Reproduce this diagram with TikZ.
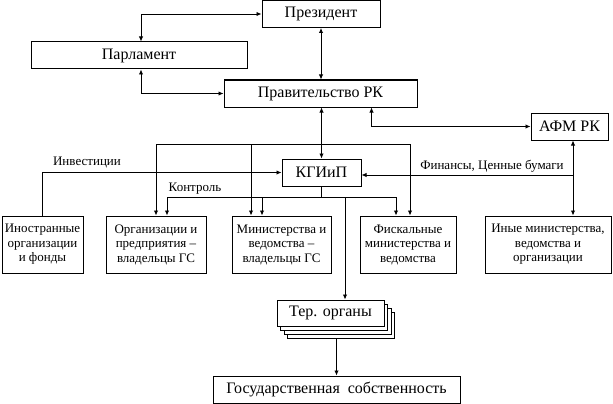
\documentclass[tikz,border=0pt]{standalone}
\usepackage{fontspec}
\setmainfont{Liberation Serif}
\usetikzlibrary{arrows.meta}
\begin{document}
\begin{tikzpicture}[x=1pt, y=-1pt, line width=0.9pt, >={Latex[length=5pt,width=4.5pt]},
    box/.style={draw, line width=1pt, fill=white, inner sep=0pt, minimum height=27pt, font=\fontsize{16}{18}\selectfont},
    unit/.style={draw, line width=1pt, fill=white, inner sep=0pt, minimum height=57pt, align=center, font=\fontsize{13}{14.5}\selectfont},
    lbl/.style={inner sep=0pt, font=\fontsize{13}{15}\selectfont}]
    \useasboundingbox (0,0) rectangle (613,404);

    \node[box, minimum width=118pt] (prez) at (321,14) {Президент};
    \node[box, minimum width=216pt] (parl) at (139,55.5) {Парламент};
    \node[box, minimum width=193pt] (gov) at (320.5,93.5) {Правительство РК};
    \node[box, minimum width=77pt] (afm) at (569.5,126.5) {АФМ РК};
    \node[box, minimum width=79pt] (kgi) at (321.5,172.5) {КГИиП};

    \node[unit, minimum width=81pt] (inos) at (42.5,244.5) {Иностранные\\организации\\и фонды};
    \node[unit, minimum width=100pt] (org) at (156,244.5) {Организации и\\предприятия --\\владельцы ГС};
    \node[unit, minimum width=99pt] (min) at (281.5,244.5) {Министерства и\\ведомства --\\владельцы ГС};
    \node[unit, minimum width=96pt] (fisk) at (408,244.5) {Фискальные\\министерства и\\ведомства};
    \node[unit, minimum width=126pt] (inye) at (548,244.5) {Иные министерства,\\ведомства и\\организации};

    \node[box, minimum width=107pt, minimum height=26pt] (ter3) at (341,325) {};
    \node[box, minimum width=107pt, minimum height=26pt] (ter2) at (337.5,321) {};
    \node[box, minimum width=107pt, minimum height=26pt] (ter1) at (334,317) {};
    \node[box, minimum width=107pt, minimum height=26pt] (ter) at (330.5,313) {Тер. органы};
    \node[box, minimum width=247pt] (gos) at (336.5,389.5) {Государственная\ \ собственность};

    \node[lbl] (inv) at (87,162) {Инвестиции};
    \node[lbl] (ctl) at (195,189) {Контроль};
    \node[lbl] (fin) at (492,166) {Финансы, Ценные бумаги};

    \coordinate (a1) at (156,144);
    \coordinate (a2) at (251,144);
    \coordinate (a3) at (410,144);
    \coordinate (c1) at (167,197);
    \coordinate (c2) at (262,197);
    \coordinate (c3) at (396,197);
    \coordinate (c4) at (345,197);
    \coordinate (f1) at (573,175);

    \draw[<->] ([xshift=2pt]parl.north) |- (prez.west);
    \draw[<->] ([xshift=2pt]parl.south) |- (gov.west);
    \draw[<->] (prez.south) -- (prez.south |- gov.north);
    \draw[<->] (kgi.north |- gov.south) -- (kgi.north);
    \draw[<->] ([xshift=51pt]gov.south) |- (afm.west);

    \draw (a1) -- (a3);
    \draw[->] (a1) -- (a1 |- org.north);
    \draw[->] (a2) -- (a2 |- min.north);
    \draw[->] (a3) -- (a3 |- fisk.north);

    \draw[->] (inos.north) |- (kgi.west);

    \draw (kgi.south) -- (kgi.south |- c1);
    \draw (c1) -- (c3);
    \draw[->] (c1) -- (c1 |- org.north);
    \draw[->] (c2) -- (c2 |- min.north);
    \draw[->] (c3) -- (c3 |- fisk.north);
    \draw[->] (c4) -- (c4 |- ter.north);

    \draw[<->] (f1 |- afm.south) -- (f1 |- inye.north);
    \draw[->] (f1) -- (f1 -| kgi.east);

    \draw[->] (gos.north |- ter3.south) -- (gos.north);
\end{tikzpicture}
\end{document}
